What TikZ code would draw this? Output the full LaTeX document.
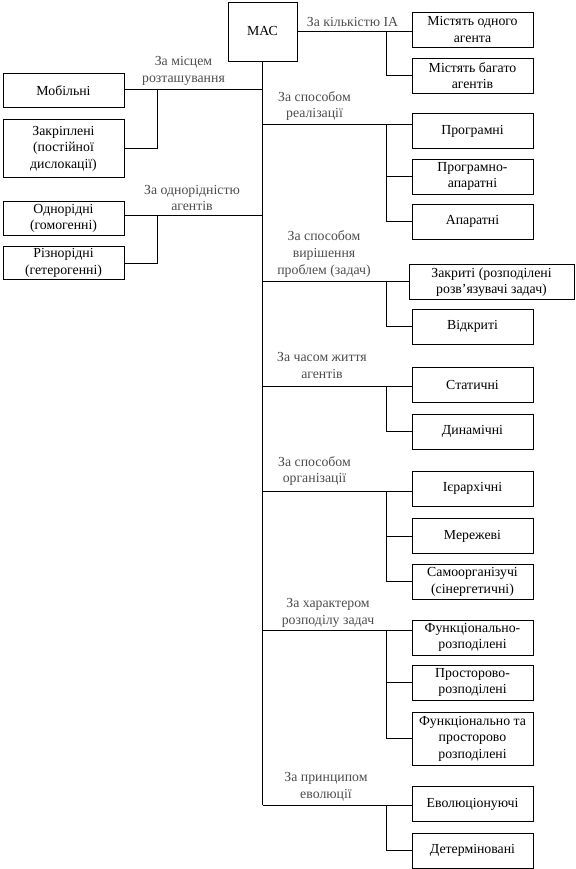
\documentclass[tikz,border=0pt]{standalone}
\usepackage{fontspec}
\setmainfont{Liberation Serif}
\begin{document}
\begin{tikzpicture}[x=1pt,y=-1pt,
  box/.style={draw,line width=0.9pt,align=center,inner sep=0pt,minimum width=121pt,minimum height=35pt,font=\fontsize{13.8}{16.5}\selectfont},
  lbl/.style={align=center,inner sep=0pt,text=black!70,font=\fontsize{13.8}{16.8}\selectfont},
  ln/.style={line width=0.9pt}]
\useasboundingbox (0,0) rectangle (575,869);
% root
\node[box,minimum width=69pt,minimum height=59pt] (mas) at (262.5,31.5) {МАС};
% right boxes
\node[box] (r1a) at (472.5,29.5) {Містять одного\\агента};
\node[box] (r1b) at (472.5,75.5) {Містять багато\\агентів};
\node[box] (r2a) at (472.5,131.3) {Програмні};
\node[box] (r2b) at (472.5,176.7) {Програмно-\\апаратні};
\node[box] (r2c) at (472.5,221.8) {Апаратні};
\node[box,minimum width=165pt] (r3a) at (491.5,282) {Закриті (розподілені\\розв’язувачі задач)};
\node[box] (r3b) at (472.5,326.7) {Відкриті};
\node[box] (r4a) at (472.5,384.5) {Статичні};
\node[box] (r4b) at (472.5,431.8) {Динамічні};
\node[box] (r5a) at (472.5,488.8) {Ієрархічні};
\node[box] (r5b) at (472.5,536) {Мережеві};
\node[box] (r5c) at (472.5,581.7) {Самоорганізучі\\(сінергетичні)};
\node[box] (r6a) at (472.5,637.5) {Функціонально-\\розподілені};
\node[box] (r6b) at (472.5,682.5) {Просторово-\\розподілені};
\node[box,minimum height=53pt] (r6c) at (472.5,738.7) {Функціонально та\\просторово\\розподілені};
\node[box] (r7a) at (472.5,804.2) {Еволюціонуючі};
\node[box] (r7b) at (472.5,850.8) {Детерміновані};
% left boxes
\node[box,minimum height=34pt] (l1a) at (63.5,90.3) {Мобільні};
\node[box,minimum height=58pt] (l1b) at (63.5,148.5) {Закріплені\\(постійної\\дислокації)};
\node[box,minimum height=34pt] (l2a) at (63.5,218.2) {Однорідні\\(гомогенні)};
\node[box,minimum height=33pt] (l2b) at (63.5,263) {Різнорідні\\(гетерогенні)};
% trunk coordinates
\coordinate (tl1) at (262.5,89.3);
\coordinate (tl2) at (262.5,215);
\coordinate (t2) at (262.5,124.3);
\coordinate (t3) at (262.5,281);
\coordinate (t4) at (262.5,386.7);
\coordinate (t5) at (262.5,491);
\coordinate (t6) at (262.5,630.7);
\coordinate (t7) at (262.5,805);
% branch points
\coordinate (b1) at (386,31.5);
\coordinate (b2) at (386,124.3);
\coordinate (b3) at (386,281);
\coordinate (b4) at (386,386.7);
\coordinate (b5) at (386,491);
\coordinate (b6) at (386,630.7);
\coordinate (b7) at (386,805);
\coordinate (bl1) at (157.3,89.3);
\coordinate (bl2) at (157.3,215);
% trunk
\draw[ln] (mas.south) -- (t7);
% right connectors
\draw[ln] (mas.east) -- (mas.east -| r1a.west);
\draw[ln] (b1) |- (r1b.west);
\draw[ln] (t2) -- (t2 -| r2a.west);
\draw[ln] (b2) |- (r2b.west);
\draw[ln] (b2) |- (r2c.west);
\draw[ln] (t3) -- (t3 -| r3a.west);
\draw[ln] (b3) |- (r3b.west);
\draw[ln] (t4) -- (t4 -| r4a.west);
\draw[ln] (b4) |- (r4b.west);
\draw[ln] (t5) -- (t5 -| r5a.west);
\draw[ln] (b5) |- (r5b.west);
\draw[ln] (b5) |- (r5c.west);
\draw[ln] (t6) -- (t6 -| r6a.west);
\draw[ln] (b6) |- (r6b.west);
\draw[ln] (b6) |- (r6c.west);
\draw[ln] (t7) -- (t7 -| r7a.west);
\draw[ln] (b7) |- (r7b.west);
% left connectors
\draw[ln] (tl1) -- (tl1 -| l1a.east);
\draw[ln] (bl1) |- (l1b.east);
\draw[ln] (tl2) -- (tl2 -| l2a.east);
\draw[ln] (bl2) |- (l2b.east);
% labels
\node[lbl] (lab1) at (352.5,22) {За кількістю ІА};
\node[lbl] (lab2) at (314.5,106) {За способом\\реалізації};
\node[lbl] (lab3) at (324,254) {За способом\\вирішення\\проблем (задач)};
\node[lbl] (lab4) at (322,365.5) {За часом життя\\агентів};
\node[lbl] (lab5) at (314.5,471) {За способом\\організації};
\node[lbl] (lab6) at (328,613) {За характером\\розподілу задач};
\node[lbl] (lab7) at (326,787) {За принципом\\еволюції};
\node[lbl] (lab8) at (183.5,71) {За місцем\\розташування};
\node[lbl] (lab9) at (192,198) {За однорідністю\\агентів};
\end{tikzpicture}
\end{document}
